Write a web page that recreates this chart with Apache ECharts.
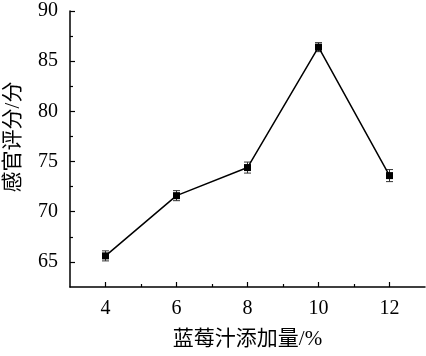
<!DOCTYPE html>
<html><head><meta charset="utf-8">
<script src="https://cdn.jsdelivr.net/npm/echarts@6/dist/echarts.min.js"></script>
<style>html,body{margin:0;padding:0;background:#fff}#c{width:426px;height:356px}</style>
</head><body><div id="c"></div>
<script>
const xValues = [4, 6, 8, 10, 12];
const scores = [65.6, 71.6, 74.4, 86.4, 73.6];
const errors = [0.5, 0.5, 0.55, 0.45, 0.6];
const xTickLabels = [4, 6, 8, 10, 12];
const xMinorTicks = [5, 7, 9, 11];
const yTickLabels = [65, 70, 75, 80, 85, 90];
const yMinorTicks = [67.5, 72.5, 77.5, 82.5, 87.5];
const xName = '蓝莓汁添加量/%';
const yName = '感官评分/分';

const FONT = "'Liberation Serif', 'Noto Sans CJK SC', serif";
const chart = echarts.init(document.getElementById('c'));
const lineData = xValues.map((x, i) => [x, scores[i]]);
const errData = xValues.map((x, i) => [x, scores[i] - errors[i], scores[i] + errors[i]]);

chart.setOption({
  animation: false,
  grid: { left: 70, right: 1, top: 11, bottom: 69, containLabel: false, outerBoundsMode: 'none' },
  xAxis: [{
    type: 'value', min: 3, max: 13,
    name: xName, nameLocation: 'middle', nameGap: 42,
    nameTextStyle: { fontFamily: FONT, fontSize: 21, color: '#000' },
    axisLine: { lineStyle: { color: '#000', width: 1.5 } },
    axisTick: { inside: true, length: 5, customValues: xTickLabels, lineStyle: { color: '#000', width: 1.2 } },
    axisLabel: { customValues: xTickLabels, fontFamily: FONT, fontSize: 20, color: '#000', margin: 12 },
    splitLine: { show: false }
  }, {
    type: 'value', min: 3, max: 13, position: 'bottom',
    axisLine: { show: false },
    axisTick: { inside: true, length: 3, customValues: xMinorTicks, lineStyle: { color: '#000', width: 1.2 } },
    axisLabel: { show: false },
    splitLine: { show: false }
  }],
  yAxis: [{
    type: 'value', min: 62.5, max: 90,
    name: yName, nameLocation: 'middle', nameGap: 46,
    nameTextStyle: { fontFamily: FONT, fontSize: 21, color: '#000', padding: [0, 0, 0, 24] },
    axisLine: { show: true, lineStyle: { color: '#000', width: 1.5 } },
    axisTick: { show: true, inside: true, length: 5, customValues: yTickLabels, lineStyle: { color: '#000', width: 1.2 } },
    axisLabel: { customValues: yTickLabels, fontFamily: FONT, fontSize: 20, color: '#000', margin: 12 },
    splitLine: { show: false }
  }, {
    type: 'value', min: 62.5, max: 90, position: 'left',
    axisLine: { show: false },
    axisTick: { show: true, inside: true, length: 3, customValues: yMinorTicks, lineStyle: { color: '#000', width: 1.2 } },
    axisLabel: { show: false },
    splitLine: { show: false }
  }],
  series: [{
    type: 'custom',
    xAxisIndex: 0, yAxisIndex: 0,
    data: errData,
    renderItem: function (params, api) {
      const x = api.value(0);
      const lo = api.coord([x, api.value(1)]);
      const hi = api.coord([x, api.value(2)]);
      const hw = 3.5;
      const st = { stroke: '#333', lineWidth: 1 };
      return { type: 'group', children: [
        { type: 'line', shape: { x1: lo[0], y1: lo[1], x2: hi[0], y2: hi[1] }, style: st },
        { type: 'line', shape: { x1: lo[0] - hw, y1: lo[1], x2: lo[0] + hw, y2: lo[1] }, style: st },
        { type: 'line', shape: { x1: hi[0] - hw, y1: hi[1], x2: hi[0] + hw, y2: hi[1] }, style: st }
      ]};
    },
    z: 1
  }, {
    type: 'line',
    xAxisIndex: 0, yAxisIndex: 0,
    data: lineData,
    symbol: 'rect', symbolSize: 7,
    lineStyle: { color: '#000', width: 1.5 },
    itemStyle: { color: '#000' },
    z: 2
  }]
});
</script></body></html>
